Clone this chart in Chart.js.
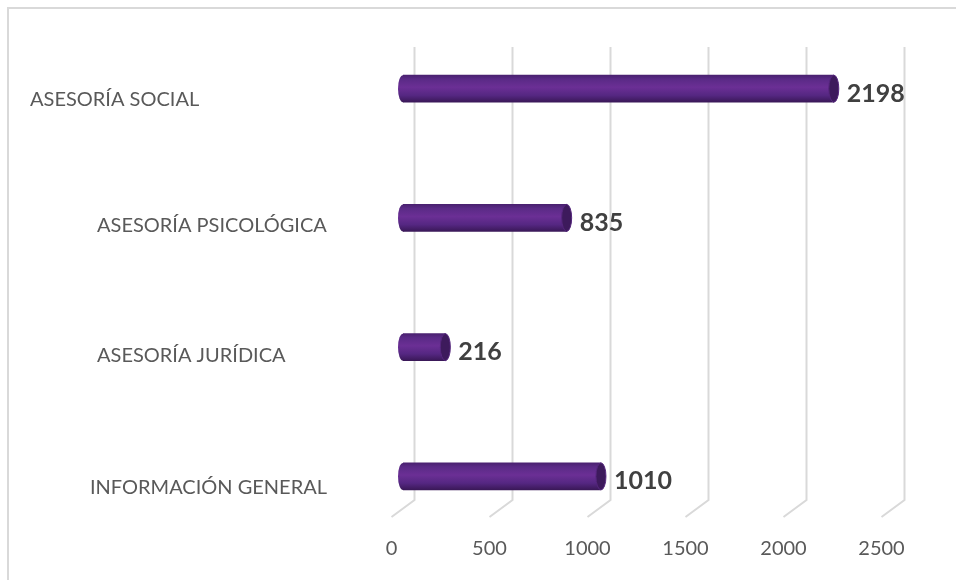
<!DOCTYPE html>
<html lang="es">
<head>
<meta charset="utf-8">
<title>Atenciones por tipo</title>
<script src="https://cdn.jsdelivr.net/npm/chart.js@4.4.1/dist/chart.umd.min.js"></script>
<style>
  html, body { margin: 0; padding: 0; background: #fff; }
  #wrap { position: relative; width: 956px; height: 580px; overflow: hidden; }
  #frame { position: absolute; left: 7px; top: 7px; width: 1000px; height: 1000px;
           border-left: 2px solid #d9d9d9; border-top: 2px solid #d9d9d9; }
  #chart { position: absolute; left: 0; top: 0; }
</style>
</head>
<body>
<div id="wrap">
  <div id="frame"></div>
  <canvas id="chart" width="956" height="580"></canvas>
</div>
<script>
const categories = ['ASESORÍA SOCIAL', 'ASESORÍA PSICOLÓGICA', 'ASESORÍA JURÍDICA', 'INFORMACIÓN GENERAL'];
const values = [2198, 835, 216, 1010];
const xTicks = [0, 500, 1000, 1500, 2000, 2500];

// excel's 3d view scatters the category labels a bit, so keep their spots here
const labelLeft = [30, 97, 97, 90];
const labelDrop = [11, 8, 8, 11];

// half of the depth shift between back wall and front of the floor
const depthX = 11.5;
const depthY = 8.5;

Chart.defaults.font.family = 'Lato, "Open Sans", sans-serif';

function cylinderGradient(ctx, cy) {
    const g = ctx.createLinearGradient(0, cy - 13.5, 0, cy + 13.5);
    g.addColorStop(0, '#4a2170');
    g.addColorStop(0.15, '#5a2a86');
    g.addColorStop(0.45, '#6b2f95');
    g.addColorStop(0.75, '#552782');
    g.addColorStop(1, '#3a1858');
    return g;
}

// slanted 3d gridlines (back wall + floor) and the rounded back end of each bar
const depthGrid = {
    id: 'depthGrid',
    beforeDatasetsDraw(chart) {
        const { ctx, chartArea, scales: { x } } = chart;
        const top = chartArea.top + 23;
        const floor = chartArea.bottom - 41;
        ctx.save();
        ctx.strokeStyle = '#d9d9d9';
        ctx.lineWidth = 2;
        x.ticks.forEach(t => {
            const p = x.getPixelForValue(t.value);
            ctx.beginPath();
            ctx.moveTo(p + depthX, top);
            ctx.lineTo(p + depthX, floor);
            ctx.lineTo(p - depthX, floor + depthY * 2);
            ctx.stroke();
        });

        chart.getDatasetMeta(0).data.forEach(bar => {
            ctx.beginPath();
            ctx.ellipse(bar.base, bar.y, 5, bar.height / 2, 0, 0, Math.PI * 2);
            ctx.fillStyle = cylinderGradient(ctx, bar.y);
            ctx.fill();
        });
        ctx.restore();
    }
};

// end caps, value labels and category labels
const cylinders = {
    id: 'cylinders',
    afterDatasetsDraw(chart) {
        const { ctx, scales: { y } } = chart;
        const meta = chart.getDatasetMeta(0);
        ctx.save();
        meta.data.forEach((bar, i) => {
            const ry = bar.height / 2;
            ctx.beginPath();
            ctx.ellipse(bar.x, bar.y, 5, ry, 0, 0, Math.PI * 2);
            ctx.fillStyle = '#3d1a5c';
            ctx.fill();
            ctx.strokeStyle = '#55267d';
            ctx.lineWidth = 1;
            ctx.stroke();

            ctx.font = 'bold 25px Lato, "Open Sans", sans-serif';
            ctx.fillStyle = '#404040';
            ctx.textAlign = 'left';
            ctx.textBaseline = 'middle';
            ctx.fillText(String(values[i]), bar.x + 13, bar.y + 5);
        });

        ctx.font = '20px Lato, "Open Sans", sans-serif';
        ctx.fillStyle = '#595959';
        categories.forEach((c, i) => {
            ctx.fillText(c, labelLeft[i], y.getPixelForValue(i) + labelDrop[i]);
        });
        ctx.restore();
    }
};

function cylinderFill(c) {
    const chart = c.chart;
    const y = chart.scales.y;
    if (!y || c.type !== 'data') return '#5c2b88';
    const cy = y.getPixelForValue(c.dataIndex);
    if (!isFinite(cy)) return '#5c2b88';
    return cylinderGradient(chart.ctx, cy);
}

new Chart(document.getElementById('chart'), {
    type: 'bar',
    data: {
        labels: categories,
        datasets: [{
            data: values,
            backgroundColor: cylinderFill,
            barThickness: 27,
            borderSkipped: false,
            borderRadius: 0
        }]
    },
    options: {
        indexAxis: 'y',
        responsive: false,
        animation: false,
        layout: { padding: { top: 24, right: 63, bottom: 0, left: 0 } },
        plugins: {
            legend: { display: false },
            tooltip: { enabled: false }
        },
        scales: {
            x: {
                min: 0,
                max: 2500,
                afterBuildTicks: s => { s.ticks = xTicks.map(v => ({ value: v })); },
                afterFit: s => { s.height = 39; },
                grid: { display: false, drawTicks: false },
                border: { display: false },
                ticks: {
                    color: '#595959',
                    font: { size: 20 },
                    padding: -4,
                    labelOffset: -depthX,
                    callback: v => String(v)
                }
            },
            y: {
                afterFit: s => { s.width = 403; },
                grid: { display: false, drawTicks: false },
                border: { display: false },
                ticks: { display: false }
            }
        }
    },
    plugins: [depthGrid, cylinders]
});
</script>
</body>
</html>
